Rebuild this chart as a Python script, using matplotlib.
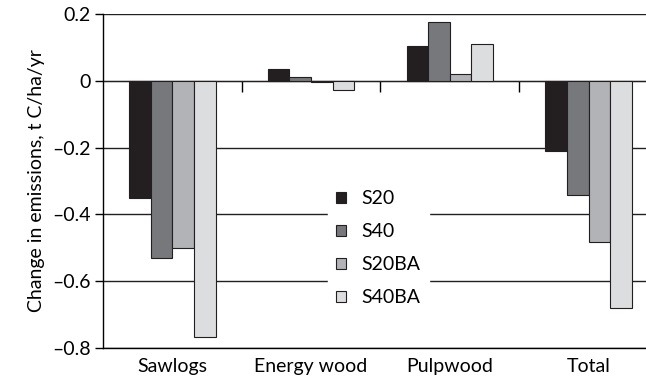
import numpy as np
import matplotlib
matplotlib.use('Agg')
import matplotlib.pyplot as plt
from matplotlib.patches import Patch

plt.rcParams['font.family'] = ['Lato', 'DejaVu Sans']
plt.rcParams['font.size'] = 14

# Dados
categorias = ['Sawlogs', 'Energy wood', 'Pulpwood', 'Total']
series = ['S20', 'S40', 'S20BA', 'S40BA']
s20 = [-0.35, 0.035, 0.104, -0.209]
s40 = [-0.53, 0.01, 0.176, -0.343]
s20ba = [-0.50, -0.003, 0.02, -0.483]
s40ba = [-0.767, -0.027, 0.11, -0.68]
cores = ['#231f20', '#77787b', '#b1b3b6', '#dcdddf']
yticks = [0.2, 0, -0.2, -0.4, -0.6, -0.8]
ylabels = ['0.2', '0', '\u20130.2', '\u20130.4', '\u20130.6', '\u20130.8']

fig = plt.figure(figsize=(6.46, 3.83), dpi=100)
ax = fig.add_axes([0.1594, 0.0914, 0.859, 0.872])

x = np.arange(len(categorias))
largura = 0.156
valores = [s20, s40, s20ba, s40ba]
for i, (nome, vals) in enumerate(zip(series, valores)):
    ax.bar(x + (i - 1.5) * largura, vals, largura, color=cores[i],
           edgecolor='#231f20', linewidth=0.8, label=nome, zorder=3)

ax.set_xlim(-0.5, len(categorias) - 0.5)
ax.set_ylim(-0.8, 0.2)
ax.set_yticks(yticks)
ax.set_yticklabels(ylabels)
ax.set_xticks(x)
ax.set_xticklabels(categorias)
ax.tick_params(axis='x', length=0, pad=7)
ax.tick_params(axis='y', direction='out', length=6, width=1, pad=3)
ax.set_ylabel('Change in emissions, t C/ha/yr', labelpad=5)

# linha do zero com marcas entre categorias
sec = ax.secondary_xaxis(0.8)
sec.set_xticks(np.arange(0.5, len(categorias) - 0.5, 1))
sec.set_xticklabels([])
sec.tick_params(direction='in', length=8, width=1)
sec.spines['bottom'].set_linewidth(1)
ax.spines['top'].set_visible(False)
ax.spines['right'].set_visible(False)
for s in ['left', 'bottom']:
    ax.spines[s].set_linewidth(1)

ax.grid(axis='y', color='#231f20', linewidth=1, zorder=0)
ax.set_axisbelow(True)

handles = [Patch(facecolor=c, edgecolor='#231f20', linewidth=0.8) for c in cores]
leg = ax.legend(handles, series, loc='upper left', bbox_to_anchor=(318 / 646, 1 - 173 / 383),
                bbox_transform=fig.transFigure, frameon=True, framealpha=1,
                edgecolor='white', facecolor='white', fancybox=False,
                handlelength=0.55, handleheight=0.55, handletextpad=0.8,
                labelspacing=0.82, borderpad=0.4)
leg.set_zorder(5)

fig.savefig('out.png', dpi=100)
